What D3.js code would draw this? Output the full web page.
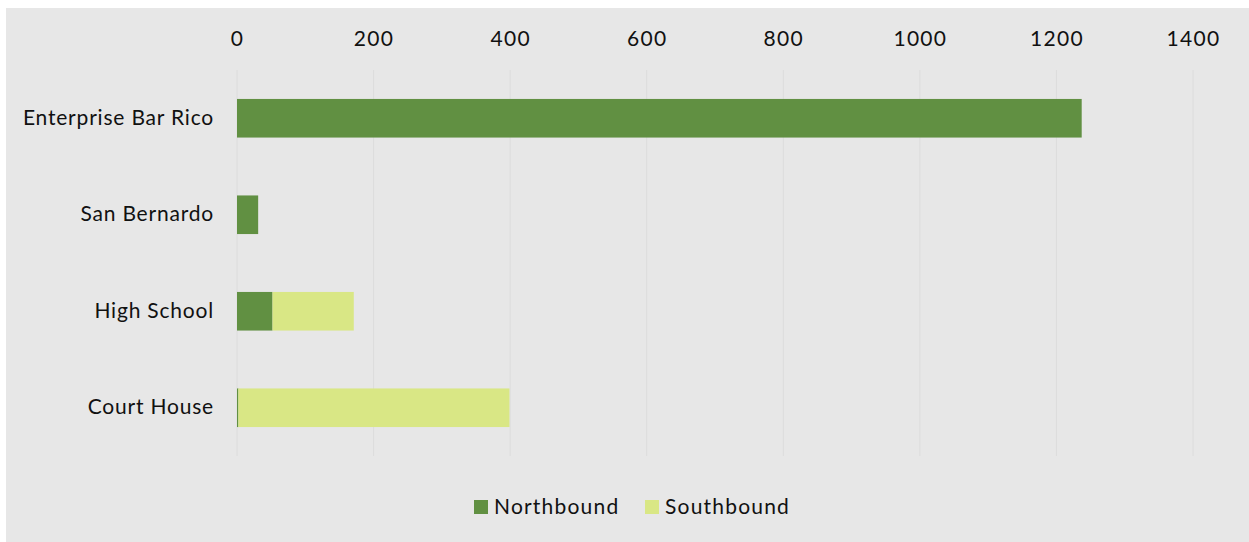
<!DOCTYPE html>
<html>
<head>
<meta charset="utf-8">
<script src="https://cdn.jsdelivr.net/npm/d3@7"></script>
<style>
  html, body { margin: 0; padding: 0; background: #ffffff; }
  svg { display: block; font-family: Lato, "Open Sans", sans-serif; }
</style>
</head>
<body>
<svg id="chart" width="1249" height="542"></svg>
<script>
// Stations and boardings per direction
const stations = ["Enterprise Bar Rico", "San Bernardo", "High School", "Court House"];
const northbound = [1237, 31, 52, 2];
const southbound = [0, 0, 119, 397];
const seriesNames = ["Northbound", "Southbound"];
const seriesColors = ["#619042", "#d9e785"];
const tickValues = [0, 200, 400, 600, 800, 1000, 1200, 1400];

const W = 1249, H = 542;
const svg = d3.select("#chart");

// panel background
svg.append("rect")
  .attr("x", 6).attr("y", 8)
  .attr("width", W - 6).attr("height", H - 8)
  .attr("fill", "#e7e7e7");

const margin = { left: 237, right: 56, top: 70, bottom: 86 };
const plotW = W - margin.left - margin.right;
const plotH = H - margin.top - margin.bottom;

const x = d3.scaleLinear().domain([0, 1400]).range([margin.left, margin.left + plotW]);
const y = d3.scaleBand().domain(stations).range([margin.top, margin.top + plotH]).paddingInner(0.6).paddingOuter(0.3);

// vertical gridlines
svg.append("g")
  .selectAll("line")
  .data(tickValues)
  .join("line")
  .attr("x1", d => x(d)).attr("x2", d => x(d))
  .attr("y1", margin.top).attr("y2", margin.top + plotH)
  .attr("stroke", "#dcdcdc")
  .attr("stroke-width", 1);

// top axis labels
const axis = svg.append("g")
  .attr("transform", `translate(0, ${margin.top - 24})`)
  .call(d3.axisTop(x).tickValues(tickValues).tickSize(0).tickPadding(0).tickFormat(d3.format("d")));
axis.select(".domain").remove();
axis.selectAll("text")
  .attr("font-family", "Lato, sans-serif")
  .attr("font-size", 21)
  .attr("letter-spacing", 1.3)
  .attr("fill", "#111");

// category labels
const yAxis = svg.append("g")
  .attr("transform", `translate(${margin.left - 23}, 0)`)
  .call(d3.axisLeft(y).tickSize(0).tickPadding(0));
yAxis.select(".domain").remove();
yAxis.selectAll("text")
  .attr("font-family", "Lato, sans-serif")
  .attr("font-size", 21)
  .attr("letter-spacing", 0.8)
  .attr("fill", "#111");

// stacked bars
const rows = stations.map((s, i) => ({ station: s, Northbound: northbound[i], Southbound: southbound[i] }));
const stack = d3.stack().keys(seriesNames)(rows);

svg.append("g")
  .selectAll("g")
  .data(stack)
  .join("g")
  .attr("fill", (d, i) => seriesColors[i])
  .selectAll("rect")
  .data(d => d)
  .join("rect")
  .attr("x", d => x(d[0]))
  .attr("y", d => y(d.data.station))
  .attr("width", d => x(d[1]) - x(d[0]))
  .attr("height", y.bandwidth());

// legend
const legendItems = [
  { name: seriesNames[0], color: seriesColors[0], x: 474 },
  { name: seriesNames[1], color: seriesColors[1], x: 645 }
];
const legend = svg.append("g");
legendItems.forEach(it => {
  legend.append("rect")
    .attr("x", it.x).attr("y", 500)
    .attr("width", 14).attr("height", 14)
    .attr("fill", it.color);
  legend.append("text")
    .attr("x", it.x + 20).attr("y", 507)
    .attr("dy", "0.35em")
    .attr("font-family", "Lato, sans-serif")
    .attr("font-size", 21)
    .attr("letter-spacing", 1.2)
    .attr("fill", "#111")
    .text(it.name);
});
</script>
</body>
</html>
